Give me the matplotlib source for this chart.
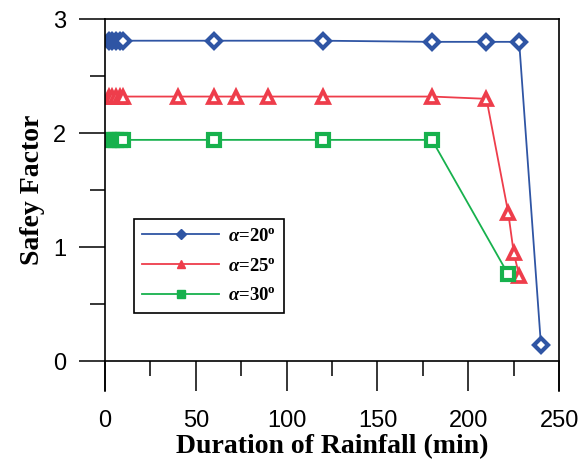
import matplotlib.pyplot as plt
from matplotlib.lines import Line2D
from matplotlib.ticker import MultipleLocator

plt.rcParams['mathtext.fontset'] = 'custom'
plt.rcParams['mathtext.it'] = 'Liberation Serif:italic:bold'
plt.rcParams['mathtext.rm'] = 'Liberation Serif:bold'
plt.rcParams['mathtext.bf'] = 'Liberation Serif:bold'

# -------------------------
# Data
# -------------------------
x20 = [2, 4, 6, 8, 10, 60, 120, 180, 210, 228, 240]
y20 = [2.81, 2.81, 2.81, 2.81, 2.81, 2.81, 2.81, 2.80, 2.80, 2.80, 0.14]

x25 = [2, 4, 6, 8, 10, 40, 60, 72, 90, 120, 180, 210, 222, 225, 228]
y25 = [2.32, 2.32, 2.32, 2.32, 2.32, 2.32, 2.32, 2.32, 2.32, 2.32, 2.32, 2.30, 1.30, 0.95, 0.75]

x30 = [2, 4, 6, 8, 10, 60, 120, 180, 222]
y30 = [1.94, 1.94, 1.94, 1.94, 1.94, 1.94, 1.94, 1.94, 0.76]

labels = [r"$\alpha$=20$^{\mathrm{o}}$", r"$\alpha$=25$^{\mathrm{o}}$", r"$\alpha$=30$^{\mathrm{o}}$"]
colors = ["#2F55A4", "#EE3D4B", "#17B14D"]

# -------------------------
# Plot
# -------------------------
fig = plt.figure(figsize=(5.8, 4.59), dpi=100)
ax = fig.add_axes([0.181, 0.2135, 0.783, 0.745])

ax.plot(x20, y20, color=colors[0], lw=1.3, marker='D', ms=7, mfc='white', mew=3.0, mec=colors[0])
ax.plot(x25, y25, color=colors[1], lw=1.3, marker='^', ms=9, mfc='white', mew=2.7, mec=colors[1])
ax.plot(x30, y30, color=colors[2], lw=1.3, marker='s', ms=8.5, mfc='white', mew=3.0, mec=colors[2])

ax.set_xlim(0, 250)
ax.set_ylim(0, 3)
ax.xaxis.set_major_locator(MultipleLocator(50))
ax.xaxis.set_minor_locator(MultipleLocator(25))
ax.yaxis.set_major_locator(MultipleLocator(1))
ax.yaxis.set_minor_locator(MultipleLocator(0.5))

for s in ax.spines.values():
    s.set_linewidth(1.2)
ax.spines['left'].set_bounds(-0.265, 3)
ax.spines['right'].set_bounds(-0.265, 3)

ax.tick_params(axis='x', which='major', direction='out', length=21.5, width=1.1, pad=14)
ax.tick_params(axis='x', which='minor', direction='out', length=10.8, width=1.1)
ax.tick_params(axis='y', which='major', direction='out', length=19, width=1.1, pad=9)
ax.tick_params(axis='y', which='minor', direction='out', length=10.8, width=1.1)
for lbl in ax.get_xticklabels() + ax.get_yticklabels():
    lbl.set_family('Liberation Sans')
    lbl.set_fontsize(17)

ax.set_xlabel("Duration of Rainfall (min)", family='Liberation Serif', weight='bold', fontsize=20, labelpad=1)
ax.set_ylabel("Safey Factor", family='Liberation Serif', weight='bold', fontsize=20, labelpad=6)

handles = [
    Line2D([], [], color=colors[0], lw=1.3, marker='D', ms=5),
    Line2D([], [], color=colors[1], lw=1.3, marker='^', ms=6),
    Line2D([], [], color=colors[2], lw=1.3, marker='s', ms=6),
]
leg = ax.legend(handles, labels, loc='upper left', bbox_to_anchor=(0.064, 0.415), borderaxespad=0,
                fancybox=False, edgecolor='black', framealpha=1,
                prop={'family': 'Liberation Serif', 'weight': 'bold', 'size': 13.5},
                handlelength=4.1, labelspacing=0.68, borderpad=0.45, handletextpad=0.45)
leg.get_frame().set_linewidth(1.2)

fig.savefig("out.png", dpi=100)
